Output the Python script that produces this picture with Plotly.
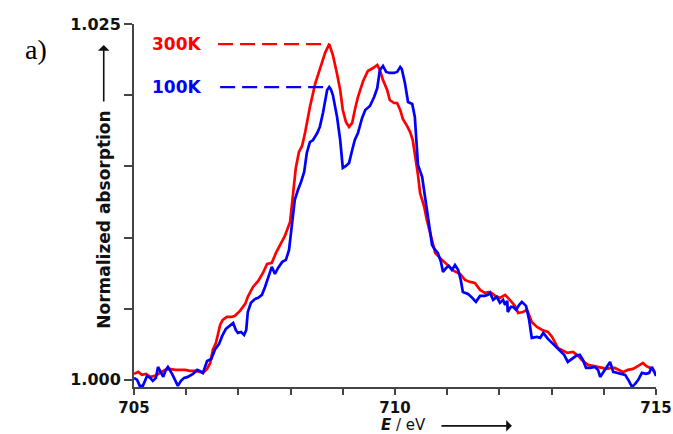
import plotly.graph_objects as go
import numpy as np

# ---- data ----
energy_300K = [705.00, 705.08, 705.15, 705.23, 705.31, 705.40, 705.50, 705.59, 705.69, 705.79,
               705.88, 705.98, 706.07, 706.17, 706.26, 706.32, 706.40, 706.46, 706.51, 706.57,
               706.65, 706.70, 706.78, 706.86, 706.93, 707.03, 707.13, 707.18, 707.28, 707.38,
               707.47, 707.55, 707.64, 707.72, 707.80, 707.89, 707.99, 708.05, 708.10, 708.16,
               708.22, 708.28, 708.37, 708.47, 708.56, 708.66, 708.74, 708.81, 708.89, 708.95,
               709.00, 709.06, 709.12, 709.18, 709.23, 709.29, 709.39, 709.48, 709.58, 709.66,
               709.71, 709.77, 709.85, 709.90, 709.98, 710.04, 710.10, 710.15, 710.23, 710.29,
               710.34, 710.40, 710.44, 710.48, 710.56, 710.61, 710.69, 710.77, 710.86, 710.96,
               711.05, 711.13, 711.25, 711.34, 711.44, 711.53, 711.63, 711.72, 711.82, 711.92,
               712.01, 712.11, 712.20, 712.30, 712.36, 712.45, 712.53, 712.62, 712.72, 712.82,
               712.93, 713.01, 713.12, 713.22, 713.30, 713.41, 713.51, 713.58, 713.70, 713.79,
               713.89, 713.98, 714.06, 714.14, 714.21, 714.29, 714.37, 714.46, 714.56, 714.66,
               714.75, 714.81, 714.89, 714.98]
absorption_300K = [1.00042, 1.00056, 1.00035, 1.00042, 1.00021, 1.00028, 1.00049, 1.00070, 1.00077, 1.00070,
                   1.00070, 1.00070, 1.00063, 1.00063, 1.00056, 1.00049, 1.00077, 1.00119, 1.00211, 1.00260,
                   1.00386, 1.00421, 1.00442, 1.00442, 1.00449, 1.00485, 1.00534, 1.00583, 1.00653, 1.00695,
                   1.00751, 1.00815, 1.00822, 1.00892, 1.00948, 1.01011, 1.01110, 1.01299, 1.01489, 1.01601,
                   1.01643, 1.01741, 1.01917, 1.02079, 1.02177, 1.02296, 1.02359, 1.02282, 1.02149, 1.02036,
                   1.01896, 1.01812, 1.01777, 1.01805, 1.01896, 1.01987, 1.02100, 1.02170, 1.02191, 1.02212,
                   1.02177, 1.02107, 1.02036, 1.01966, 1.01945, 1.01945, 1.01896, 1.01833, 1.01784, 1.01741,
                   1.01685, 1.01545, 1.01440, 1.01313, 1.01215, 1.01124, 1.00997, 1.00892, 1.00857, 1.00822,
                   1.00794, 1.00765, 1.00744, 1.00702, 1.00688, 1.00681, 1.00632, 1.00611, 1.00618, 1.00590,
                   1.00576, 1.00597, 1.00562, 1.00520, 1.00470, 1.00477, 1.00492, 1.00407, 1.00372, 1.00351,
                   1.00337, 1.00302, 1.00225, 1.00204, 1.00190, 1.00197, 1.00169, 1.00140, 1.00105, 1.00098,
                   1.00091, 1.00084, 1.00077, 1.00084, 1.00084, 1.00070, 1.00056, 1.00070, 1.00077, 1.00098,
                   1.00119, 1.00098, 1.00084, 1.00056]

energy_100K = [705.00, 705.06, 705.11, 705.17, 705.25, 705.31, 705.36, 705.42, 705.46, 705.52,
               705.56, 705.61, 705.65, 705.73, 705.79, 705.84, 705.90, 705.96, 706.03, 706.13,
               706.21, 706.26, 706.32, 706.40, 706.48, 706.55, 706.63, 706.69, 706.76, 706.82,
               706.90, 706.95, 706.99, 707.05, 707.11, 707.15, 707.18, 707.24, 707.32, 707.38,
               707.45, 707.51, 707.57, 707.64, 707.70, 707.76, 707.84, 707.91, 707.97, 708.03,
               708.08, 708.14, 708.20, 708.26, 708.31, 708.37, 708.43, 708.51, 708.56, 708.62,
               708.70, 708.74, 708.77, 708.81, 708.89, 708.95, 709.00, 709.06, 709.12, 709.18,
               709.23, 709.29, 709.37, 709.43, 709.52, 709.60, 709.66, 709.71, 709.77, 709.83,
               709.90, 709.98, 710.04, 710.10, 710.13, 710.19, 710.25, 710.33, 710.38, 710.44,
               710.52, 710.57, 710.63, 710.71, 710.77, 710.82, 710.88, 710.92, 710.98, 711.03,
               711.09, 711.15, 711.21, 711.26, 711.30, 711.40, 711.48, 711.55, 711.63, 711.72,
               711.78, 711.82, 711.88, 711.95, 712.01, 712.07, 712.11, 712.15, 712.16, 712.22,
               712.26, 712.32, 712.38, 712.43, 712.51, 712.57, 712.62, 712.72, 712.78, 712.84,
               712.93, 713.01, 713.08, 713.16, 713.24, 713.31, 713.39, 713.47, 713.54, 713.60,
               713.66, 713.74, 713.83, 713.89, 713.93, 713.98, 714.04, 714.12, 714.18, 714.25,
               714.33, 714.41, 714.48, 714.54, 714.60, 714.66, 714.73, 714.81, 714.87, 714.92,
               714.96, 715.00]
absorption_100K = [1.00014, 1.00000, 0.99958, 0.99958, 1.00028, 1.00014, 0.99993, 1.00014, 1.00091, 1.00049,
                   1.00021, 1.00070, 1.00091, 1.00042, 0.99993, 0.99958, 0.99993, 1.00014, 1.00021, 1.00042,
                   1.00070, 1.00063, 1.00049, 1.00133, 1.00147, 1.00211, 1.00253, 1.00309, 1.00358, 1.00379,
                   1.00400, 1.00351, 1.00330, 1.00337, 1.00316, 1.00351, 1.00477, 1.00541, 1.00569, 1.00576,
                   1.00597, 1.00653, 1.00716, 1.00794, 1.00744, 1.00786, 1.00829, 1.00843, 1.00913, 1.01110,
                   1.01264, 1.01334, 1.01390, 1.01461, 1.01594, 1.01671, 1.01685, 1.01734, 1.01777, 1.01875,
                   1.02036, 1.02057, 1.02043, 1.02001, 1.01847, 1.01685, 1.01489, 1.01503, 1.01524, 1.01615,
                   1.01685, 1.01734, 1.01840, 1.01896, 1.01924, 1.01987, 1.02050, 1.02177, 1.02205, 1.02163,
                   1.02156, 1.02156, 1.02163, 1.02198, 1.02184, 1.02085, 1.01952, 1.01938, 1.01847, 1.01510,
                   1.01426, 1.01299, 1.01159, 1.00948, 1.00913, 1.00892, 1.00829, 1.00758, 1.00786, 1.00800,
                   1.00772, 1.00807, 1.00772, 1.00702, 1.00618, 1.00604, 1.00576, 1.00548, 1.00590, 1.00590,
                   1.00597, 1.00611, 1.00562, 1.00583, 1.00541, 1.00562, 1.00527, 1.00555, 1.00477, 1.00513,
                   1.00513, 1.00492, 1.00527, 1.00548, 1.00520, 1.00421, 1.00295, 1.00302, 1.00295, 1.00330,
                   1.00288, 1.00260, 1.00239, 1.00211, 1.00176, 1.00126, 1.00147, 1.00169, 1.00176, 1.00140,
                   1.00084, 1.00084, 1.00091, 1.00070, 1.00021, 1.00049, 1.00077, 1.00126, 1.00056, 1.00049,
                   1.00042, 1.00035, 0.99993, 0.99951, 0.99972, 1.00000, 1.00049, 1.00042, 1.00049, 1.00091,
                   1.00063, 1.00028]

series_labels = ["300K", "100K"]
x_tick_vals = [705, 706, 707, 708, 709, 710, 711, 712, 713, 714, 715]
x_tick_text = ["705", "", "", "", "", "710", "", "", "", "", "715"]
y_tick_vals = [1.000, 1.005, 1.010, 1.015, 1.020, 1.025]
y_tick_text = ["1.000", "", "", "", "", "1.025"]
label_dash_start = [706.61, 706.65]
first_peak_limit = 709.0   # guide lines mark the low-energy peak maximum

RED = "#ff0000"
BLUE = "#0000ff"
FONT = "DejaVu Sans"

fig = go.Figure()
fig.add_trace(go.Scatter(x=energy_300K, y=absorption_300K, mode="lines",
                         line=dict(color=RED, width=2.7), showlegend=False))
fig.add_trace(go.Scatter(x=energy_100K, y=absorption_100K, mode="lines",
                         line=dict(color=BLUE, width=2.7), showlegend=False))

# dashed guide lines from labels to the first peak maxima
for xs, ys, col, lab, x0 in [(energy_300K, absorption_300K, RED, series_labels[0], label_dash_start[0]),
                             (energy_100K, absorption_100K, BLUE, series_labels[1], label_dash_start[1])]:
    xa = np.array(xs)
    ya = np.where(xa < first_peak_limit, np.array(ys), -np.inf)
    i = int(np.argmax(ya))
    fig.add_trace(go.Scatter(x=[x0, xs[i]], y=[ys[i], ys[i]], mode="lines",
                             line=dict(color=col, width=2.2, dash="15px,7px"), showlegend=False))
    fig.add_annotation(x=706.33, y=ys[i], xref="x", yref="y", text=lab, showarrow=False,
                       xanchor="right", yanchor="middle",
                       font=dict(family=FONT, size=17, color=col, weight="bold"))

axis_common = dict(showline=True, linecolor="#444444", linewidth=2, ticks="outside",
                   tickcolor="#444444", tickwidth=2, showgrid=False, zeroline=False,
                   automargin=False)
tick_font_y = dict(family=FONT, size=16, color="#111111", weight="bold")
tick_font_x = dict(family=FONT, size=15, color="#111111", weight="bold")

fig.update_xaxes(range=[705, 715], tickvals=x_tick_vals, ticktext=x_tick_text, ticklen=6,
                 tickfont=tick_font_x, **axis_common)
fig.update_yaxes(range=[0.9995, 1.025], tickvals=y_tick_vals, ticktext=y_tick_text, ticklen=8,
                 tickfont=tick_font_y, **axis_common)

# axis titles with arrows
fig.add_annotation(x=-0.058, y=0.46, xref="paper", yref="paper", text="Normalized absorption",
                   textangle=-90, showarrow=False, xanchor="center", yanchor="middle",
                   font=dict(family=FONT, size=17, color="#111111", weight="bold"))
fig.add_annotation(x=-0.058, y=0.942, xref="paper", yref="paper", text="", showarrow=True,
                   ax=0, ay=58, axref="pixel", ayref="pixel", arrowhead=1, arrowsize=1.2,
                   arrowwidth=1.6, arrowcolor="#111111")
fig.add_annotation(x=709.69, y=-0.105, xref="x", yref="paper",
                   text="<b><i>E</i></b> / eV", showarrow=False, xanchor="left", yanchor="middle",
                   font=dict(family=FONT, size=15, color="#111111"))
fig.add_annotation(x=712.24, y=-0.107, xref="x", yref="paper", text="", showarrow=True,
                   ax=-72, ay=0, axref="pixel", ayref="pixel", arrowhead=1, arrowsize=1.2,
                   arrowwidth=1.6, arrowcolor="#111111")

# panel label
fig.add_annotation(x=(23 - 134) / 522, y=(387 - 32) / 363, xref="paper", yref="paper",
                   text="a)", showarrow=False,
                   font=dict(family="Liberation Serif", size=28, color="#000000"))

fig.update_layout(width=673, height=434, margin=dict(l=134, r=17, t=24, b=47),
                  paper_bgcolor="white", plot_bgcolor="white", showlegend=False)

fig.write_html("out.html")
